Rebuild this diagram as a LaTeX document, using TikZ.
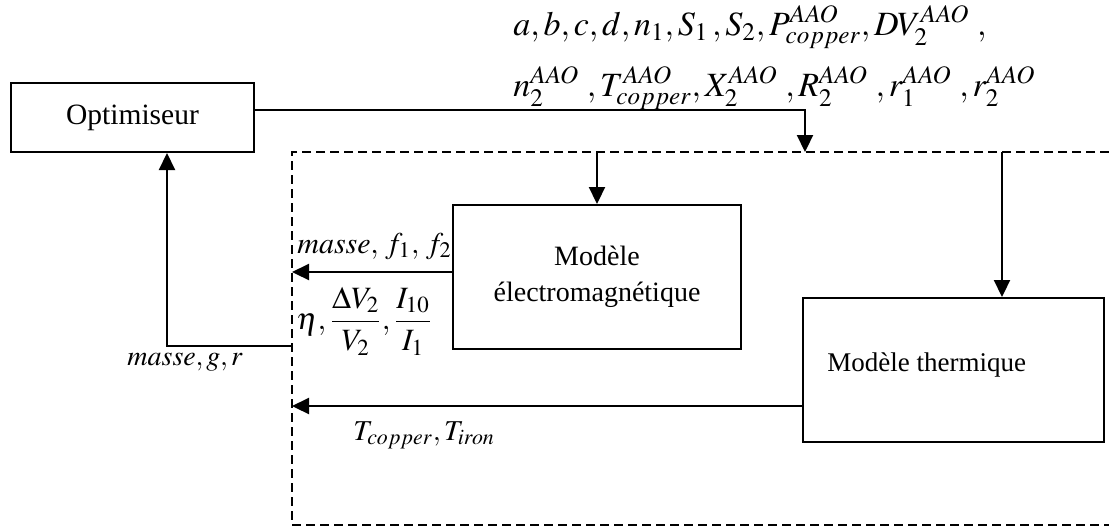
\documentclass[tikz,border=0pt]{standalone}
\usepackage{mathptmx}
\usepackage[no-math]{fontspec}
\setmainfont{Liberation Serif}
\usetikzlibrary{arrows.meta}
\begin{document}
\begin{tikzpicture}[x=0.5pt,y=-0.5pt,
  box/.style={draw, line width=1pt, inner sep=0pt},
  conn/.style={line width=1.1pt},
  arr/.style={conn, -{Triangle[length=8.5pt,width=8pt]}},
  dashbox/.style={line width=1pt, dash pattern=on 4.5pt off 2.5pt},
  lbl/.style={inner sep=0pt, font=\fontsize{15}{17}\selectfont},
  toplbl/.style={inner sep=0pt, anchor=base west, font=\fontsize{17}{20}\selectfont}]
\useasboundingbox (0,0) rectangle (1109,527);

% boxes
\node[box, minimum width=121.5pt, minimum height=34.5pt, font=\fontsize{14.75}{17}\selectfont] (opt) at (132.5,117.5) {Optimiseur};
\node[box, minimum width=144pt, minimum height=72pt, align=center, font=\fontsize{14}{18}\selectfont] (em) at (597,277) {Modèle\\électromagnétique};
\node[box, minimum width=150.5pt, minimum height=72pt] (th) at (953.5,370) {};
\node[inner sep=0pt, anchor=base west, font=\fontsize{13.5}{16}\selectfont] (thtxt) at (827,371) {Modèle thermique};

% dashed frame
\coordinate (dtl) at (292,152);
\coordinate (dtr) at (1109,152);
\coordinate (dbl) at (292,525);
\coordinate (dbr) at (1109,525);
\draw[dashbox] (dtr) -- (dtl) -- (dbl) -- (dbr);

% top parameters
\node[toplbl] (p1) at (513,35) {$a, b, c, d, n_1, S_1\,, S_2, P^{AAO}_{copper}, DV_2^{AAO}\;,$};
\node[toplbl] (p2) at (513,96) {$n_2^{AAO}\;,T^{AAO}_{copper},X_2^{AAO}\;,R_2^{AAO}\;,r_1^{AAO}\;,r_2^{AAO}$};

% optimiser to models
\coordinate (o1) at (254,110);
\coordinate (j1) at (805,110);
\coordinate (d1) at (805,152);
\draw[arr] (o1) -- (j1) -- (d1);
\coordinate (d2) at (597,152);
\draw[arr] (d2) -- (em.north);
\coordinate (d3) at (1002,152);
\draw[arr] (d3) -- (d3 |- th.north);

% outputs
\coordinate (e1) at (453,272);
\coordinate (l1) at (292,272);
\draw[arr] (e1) -- (l1);
\coordinate (t1) at (803,406);
\coordinate (l2) at (292,406);
\draw[arr] (t1) -- (l2);
\coordinate (l3) at (292,346);
\coordinate (c3) at (167,346);
\draw[arr] (l3) -- (c3) -- (c3 |- opt.south);

% labels
\node[lbl, anchor=base west] (m1) at (297,253) {$masse,\, f_1,\, f_2$};
\node[lbl, anchor=west, font=\fontsize{15.5}{18}\selectfont] (m2) at (296,321) {$\eta, \displaystyle\frac{\Delta V_2}{V_2}, \frac{I_{10}}{I_1}$};
\node[lbl, anchor=base west, font=\fontsize{14}{17}\selectfont] (m3) at (127,365) {$masse, g, r$};
\node[inner sep=0pt, anchor=base west, font=\fontsize{14.4}{17}\selectfont] (m4) at (353,440) {$T_{copper}, T_{iron}$};
\end{tikzpicture}
\end{document}
